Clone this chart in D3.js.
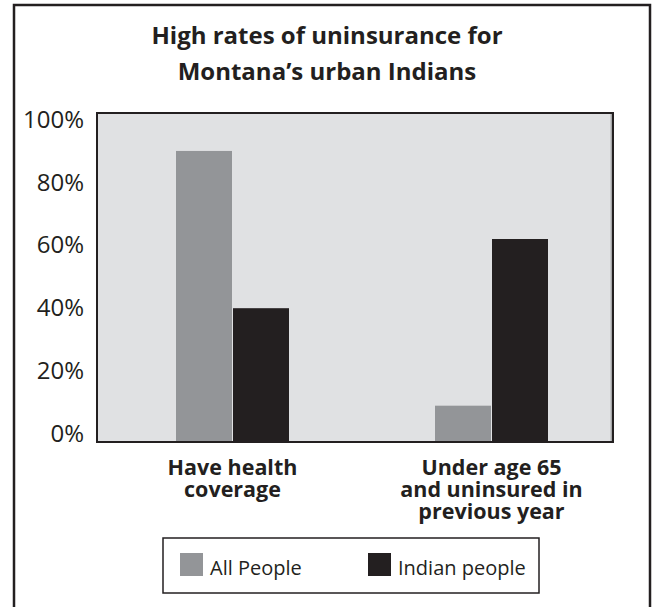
<!DOCTYPE html>
<html>
<head>
<meta charset="utf-8">
<script src="https://cdn.jsdelivr.net/npm/d3@7"></script>
<style>
  html, body { margin: 0; padding: 0; background: #fff; }
  svg { display: block; }
</style>
</head>
<body>
<svg id="chart" width="654" height="607"></svg>
<script>
const titleLines = ["High rates of uninsurance for", "Montana\u2019s urban Indians"];
const categories = ["Have health coverage", "Under age 65 and uninsured in previous year"];
const categoryLines = [["Have health", "coverage"], ["Under age 65", "and uninsured in", "previous year"]];
const series = ["All People", "Indian people"];
const allPeople = [90, 9];
const indianPeople = [40, 62];
const yTicks = [0, 20, 40, 60, 80, 100];
const colors = ["#939598", "#231f20"];

const svg = d3.select("#chart");
const font = "'Open Sans', 'Noto Sans', sans-serif";
const ink = "#231f20";

svg.append("rect").attr("width", 654).attr("height", 607).attr("fill", "#fff");
// outer frame
svg.append("rect").attr("x", 14).attr("y", 5).attr("width", 636).attr("height", 640)
  .attr("fill", "none").attr("stroke", ink).attr("stroke-width", 2.5);

// title
svg.append("g").selectAll("text").data(titleLines).join("text")
  .attr("x", 327).attr("y", (d, i) => 44 + i * 36)
  .attr("text-anchor", "middle")
  .attr("font-family", font).attr("font-weight", 700).attr("font-size", 24)
  .attr("fill", ink).text(d => d);

const plot = { left: 97, top: 113, right: 613, bottom: 442 };
svg.append("rect").attr("x", plot.left).attr("y", plot.top)
  .attr("width", plot.right - plot.left).attr("height", plot.bottom - plot.top)
  .attr("fill", "#e0e1e3").attr("stroke", ink).attr("stroke-width", 2);
svg.append("line").attr("x1", plot.right - 1.8).attr("x2", plot.right - 1.8)
  .attr("y1", plot.top + 1).attr("y2", plot.bottom - 1)
  .attr("stroke", "#8a8b8d").attr("stroke-width", 1);

const y = d3.scaleLinear().domain([0, 100]).range([434, 119.5]);
const x0 = d3.scaleBand().domain(categories).range([103, 621]);
const x1 = d3.scaleBand().domain(series).range([-56.5, 56.5]);

const data = categories.map((c, i) => ({ cat: c, vals: [allPeople[i], indianPeople[i]] }));

const groups = svg.append("g").selectAll("g").data(data).join("g")
  .attr("transform", d => `translate(${x0(d.cat) + x0.bandwidth() / 2},0)`);
groups.selectAll("rect").data(d => d.vals.map((v, j) => ({ s: series[j], v, j }))).join("rect")
  .attr("x", d => x1(d.s) + (d.j === 1 ? 0.5 : 0))
  .attr("width", x1.bandwidth() - 0.5)
  .attr("y", d => y(d.v))
  .attr("height", d => plot.bottom - y(d.v))
  .attr("fill", d => colors[d.j]);

// redraw baseline on top
svg.append("line").attr("x1", plot.left).attr("x2", plot.right)
  .attr("y1", plot.bottom).attr("y2", plot.bottom)
  .attr("stroke", ink).attr("stroke-width", 2);

// y axis
const yAxis = svg.append("g").attr("transform", "translate(84,0)")
  .call(d3.axisLeft(y).tickValues(yTicks).tickFormat(d => d + "%").tickSize(0).tickPadding(0));
yAxis.select(".domain").remove();
yAxis.selectAll("text").attr("font-family", font).attr("font-size", 24).attr("fill", ink);

// category labels
const catG = svg.append("g").selectAll("text").data(categories).join("text")
  .attr("x", d => x0(d) + x0.bandwidth() / 2)
  .attr("text-anchor", "middle")
  .attr("font-family", font).attr("font-weight", 700).attr("font-size", 21.5)
  .attr("fill", ink);
catG.selectAll("tspan").data((d, i) => categoryLines[i]).join("tspan")
  .attr("x", function () { return d3.select(this.parentNode).attr("x"); })
  .attr("y", (d, i) => 475 + i * 22)
  .text(d => d);

// legend
const lg = svg.append("g");
lg.append("rect").attr("x", 163).attr("y", 538).attr("width", 376).attr("height", 55)
  .attr("fill", "#fff").attr("stroke", ink).attr("stroke-width", 1.5);
const legendX = [180, 368];
series.forEach((s, i) => {
  lg.append("rect").attr("x", legendX[i]).attr("y", 553).attr("width", 23).attr("height", 23)
    .attr("fill", colors[i]);
  lg.append("text").attr("x", legendX[i] + 30).attr("y", 575)
    .attr("font-family", font).attr("font-size", 20).attr("fill", ink).text(s);
});
</script>
</body>
</html>
